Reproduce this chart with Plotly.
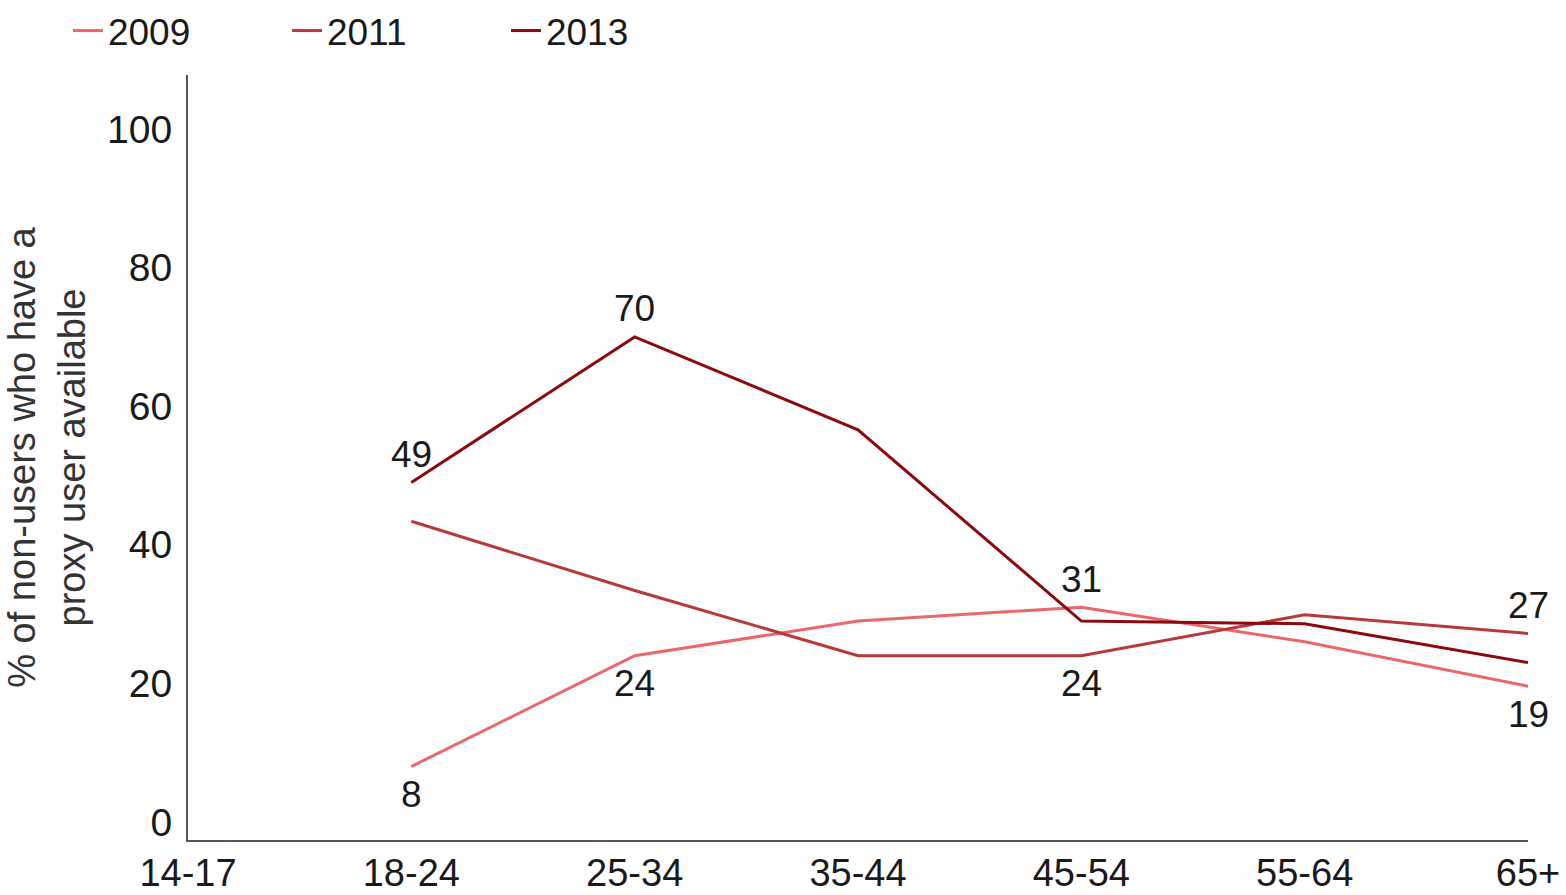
import plotly.graph_objects as go

categories = ["14-17", "18-24", "25-34", "35-44", "45-54", "55-64", "65+"]
years = ["2009", "2011", "2013"]
values_2009 = [None, 8, 24, 29, 31, 26, 19.6]
values_2011 = [None, 43.4, 33.4, 24, 24, 29.9, 27.2]
values_2013 = [None, 49, 70, 56.6, 29, 28.6, 23]
labels_2009 = ["", "8", "24", "", "31", "", "19"]
labels_2011 = ["", "", "", "", "24", "", "27"]
labels_2013 = ["", "49", "70", "", "", "", ""]
# +1 = label above the point, -1 = label below
side_2009 = [0, -1, -1, 0, 1, 0, -1]
side_2011 = [0, 0, 0, 0, -1, 0, 1]
side_2013 = [0, 1, 1, 0, 0, 0, 0]
colors = ["#e8686c", "#b8393c", "#8b0a0e"]

FONT = "Liberation Sans, Arial, sans-serif"
fig = go.Figure()
series = list(zip(
    years,
    [values_2009, values_2011, values_2013],
    [labels_2009, labels_2011, labels_2013],
    [side_2009, side_2011, side_2013],
    colors,
))
for name, vals, labs, sides, col in series:
    fig.add_trace(go.Scatter(
        x=categories, y=vals, name=name, mode="lines",
        line=dict(color=col, width=3), cliponaxis=False,
    ))
    for cat, v, lab, s in zip(categories, vals, labs, sides):
        if lab:
            fig.add_annotation(
                x=cat, y=v, text=lab, showarrow=False,
                yshift=28 * s, font=dict(family=FONT, size=37, color="#1a1a1a"),
            )

fig.update_layout(
    width=1566, height=895,
    margin=dict(l=188, r=38, t=75, b=55),
    plot_bgcolor="white", paper_bgcolor="white",
    font=dict(family=FONT, size=37, color="#1a1a1a"),
    showlegend=True,
    legend=dict(orientation="h", xref="container", yref="container",
                x=0.0434, xanchor="left", y=1.0, yanchor="top",
                font=dict(size=37, color="#1a1a1a"), entrywidth=174, entrywidthmode="pixels",
                bgcolor="rgba(0,0,0,0)"),
    xaxis=dict(
        type="category", range=[0, 6], showgrid=False, zeroline=False,
        showline=True, linecolor="#555555", linewidth=2, ticks="",
        tickfont=dict(size=38, color="#1a1a1a"), ticklabelstandoff=-2,
        automargin=False,
    ),
    yaxis=dict(
        range=[-2.6, 107.8], tickvals=[0, 20, 40, 60, 80, 100], showgrid=False,
        zeroline=False, showline=True, linecolor="#555555", linewidth=2, ticks="",
        tickfont=dict(size=39, color="#1a1a1a"), ticklabelstandoff=6,
        automargin=False,
        title=dict(text="% of non-users who have a<br>proxy user available",
                   font=dict(size=38, color="#333333"), standoff=10),
    ),
)
fig.write_html(
    "out.html",
    config={"displayModeBar": False},
    post_script="document.body.style.margin='0';document.body.style.overflow='hidden';",
)
